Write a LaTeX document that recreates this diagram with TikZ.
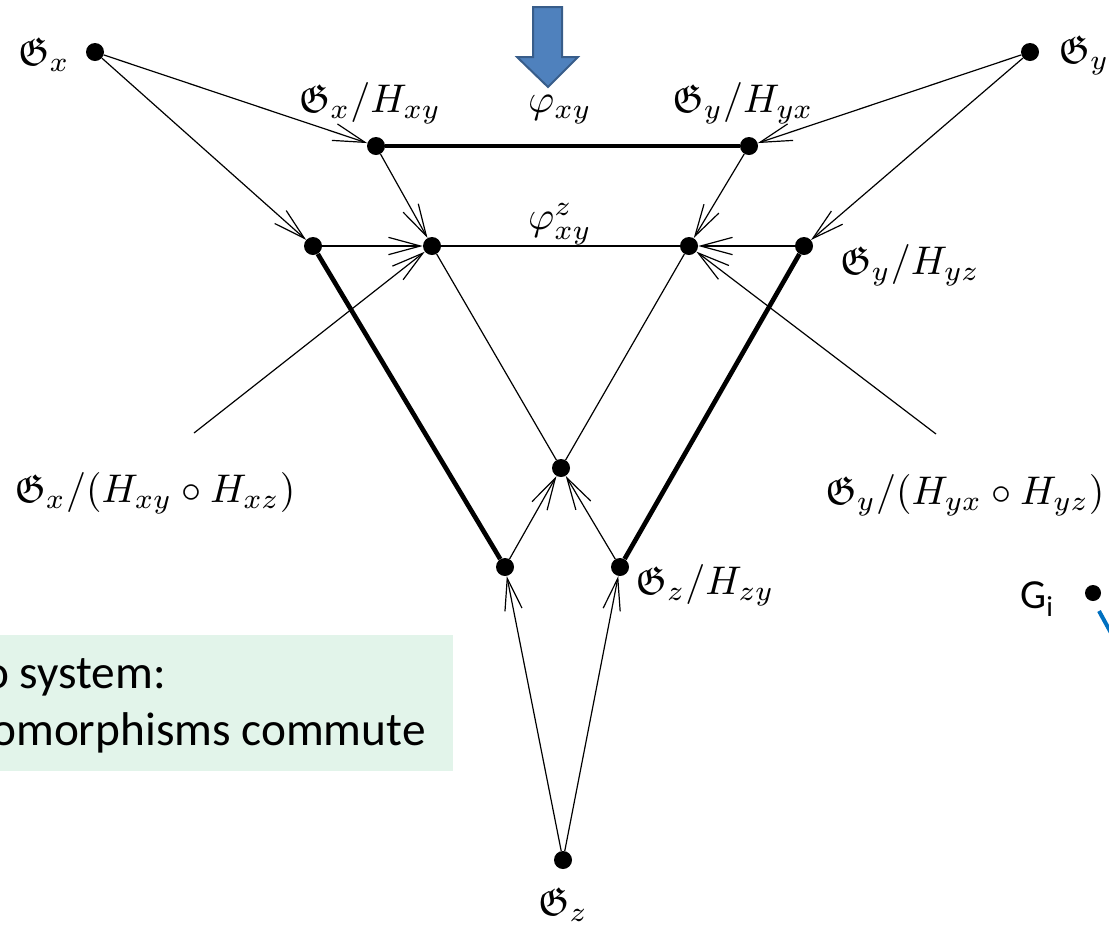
\documentclass[tikz,border=0pt]{standalone}
\usepackage{amssymb}
\usepackage{graphicx}
\usepackage{fontspec}
\newfontfamily\carlito{Carlito}
\usetikzlibrary{arrows.meta}
\definecolor{arrowblue}{HTML}{4F81BD}
\definecolor{arrowedge}{HTML}{385D8A}
\definecolor{boxgreen}{HTML}{E2F4EA}
\definecolor{lineblue}{HTML}{0070C0}
\newcommand{\Lbl}[1]{\scalebox{3.0}{$#1$}}
\begin{document}
\begin{tikzpicture}[x=0.75pt,y=-0.75pt,
  dot/.style={circle,fill=black,inner sep=0pt,minimum size=13.5pt},
  arr/.style={line width=0.9pt,-{Straight Barb[length=24pt,width=13pt,line width=0.9pt]}},
  plain/.style={line width=0.9pt},
  heavy/.style={line width=3.5pt},
  lbl/.style={inner sep=0pt},
  boxtext/.style={font=\carlito\fontsize{35.5}{42}\selectfont,inner sep=0pt,anchor=base west}
]
\useasboundingbox (0,0) rectangle (1109,951);

% green box
\fill[boxgreen] (0,635) rectangle (453,771);
\node[boxtext] (t1) at (-16,688) {o system:};
\node[boxtext] (t2) at (-9,745) {omorphisms commute};

% blue arrow
\draw[fill=arrowblue,draw=arrowedge,line width=1.5pt,line join=miter]
  (533,7) -- (562,7) -- (562,57) -- (578,57) -- (548,87) -- (517,57) -- (533,57) -- cycle;

% nodes
\node[dot] (Gx) at (95,52) {};
\node[dot] (Gy) at (1030,52) {};
\node[dot] (A) at (376,146) {};
\node[dot] (B) at (749,146) {};
\node[dot] (L) at (313,246) {};
\node[dot] (I1) at (432,246) {};
\node[dot] (I2) at (689,246) {};
\node[dot] (R) at (804,246) {};
\node[dot] (C) at (561,468) {};
\node[dot] (BL) at (505,567) {};
\node[dot] (BR) at (620,567) {};
\node[dot] (Gz) at (563,860) {};

% labels
\node[lbl] (lGx) at (44,55) {\Lbl{\mathfrak{G}_x}};
\node[lbl] (lGy) at (1084,55) {\Lbl{\mathfrak{G}_y}};
\node[lbl] (lA) at (370,103) {\Lbl{\mathfrak{G}_x/H_{xy}}};
\node[lbl] (lB) at (743,103) {\Lbl{\mathfrak{G}_y/H_{yx}}};
\node[lbl] (phi) at (560,110) {\Lbl{\varphi_{xy}}};
\node[lbl] (phiz) at (560,224) {\Lbl{\varphi^z_{xy}}};
\node[lbl] (lR) at (910,265) {\Lbl{\mathfrak{G}_y/H_{yz}}};
\node[lbl] (lXX) at (155,493) {\Lbl{\mathfrak{G}_x/(H_{xy}\circ H_{xz})}};
\node[lbl] (lYY) at (965,495) {\Lbl{\mathfrak{G}_y/(H_{yx}\circ H_{yz})}};
\node[lbl] (lZ) at (705,585) {\Lbl{\mathfrak{G}_z/H_{zy}}};
\node[lbl] (lGz) at (563,905) {\Lbl{\mathfrak{G}_z}};

\coordinate (pX) at (194,433);
\coordinate (pY) at (936,434);

% connectors
\draw[heavy] (A) -- (B);
\draw[heavy] (L) -- (BL);
\draw[heavy] (R) -- (BR);
\draw[plain] (I1) -- (I2);
\draw[plain] (I1) -- (C);
\draw[plain] (I2) -- (C);
\draw[arr] (Gx) -- (A);
\draw[arr] (Gx) -- (L);
\draw[arr] (Gy) -- (B);
\draw[arr] (Gy) -- (R);
\draw[arr] (A) -- (I1);
\draw[arr] (B) -- (I2);
\draw[arr] (L) -- (I1);
\draw[arr] (R) -- (I2);
\draw[arr] (BL) -- (C);
\draw[arr] (BR) -- (C);
\draw[arr] (Gz) -- (BL);
\draw[arr] (Gz) -- (BR);
\draw[arr] (pX) -- (I1);
\draw[arr] (pY) -- (I2);

% G_i fragment
\node[font=\carlito\fontsize{31}{36}\selectfont,inner sep=0pt,anchor=base west] (Gi) at (1020,608) {G\textsubscript{i}};
\node[dot,minimum size=12pt] (Gidot) at (1093,593) {};
\coordinate (Giend) at (1116,642);
\draw[lineblue,line width=3pt] (1099,611) -- (Giend);
\end{tikzpicture}
\end{document}
